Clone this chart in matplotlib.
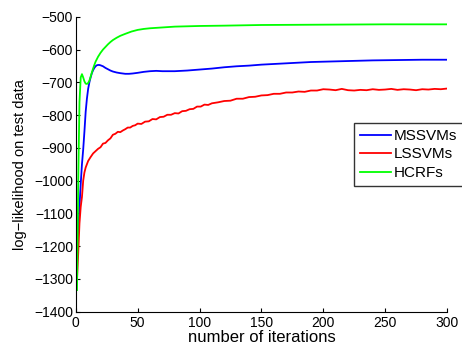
import matplotlib
matplotlib.use("Agg")
import matplotlib.pyplot as plt

plt.rcParams["font.family"] = ["Liberation Sans", "DejaVu Sans"]

# MSSVMs (blue)
ms_x = [1, 2, 3, 4, 5, 6, 7, 8, 9, 10, 11, 12, 13, 14, 15, 16, 17, 18, 19, 20,
        22, 24, 26, 28, 30, 33, 36, 40, 43, 46, 50, 55, 60, 65, 70, 75, 80, 90,
        100, 110, 120, 130, 140, 150, 160, 170, 180, 190, 200, 220, 240, 260, 280, 300]
ms_y = [-1250, -1160, -1080, -1010, -950, -905, -850, -790, -750, -720, -700, -685,
        -672, -663, -656, -651, -648, -647, -647, -648, -651, -656, -660, -664, -667,
        -670, -672, -674, -674, -673, -671, -668, -666, -665, -666, -666, -666, -664,
        -661, -658, -654, -651, -649, -646, -644, -642, -640, -638, -637, -635, -633,
        -632, -631, -631]

# LSSVMs (red)
ls_x = [1, 2, 3, 4, 5, 6, 7, 8, 9, 10, 12, 14, 16, 18, 20, 22, 24, 26, 28, 30, 32,
        34, 36, 38, 40, 42, 44, 46, 48, 50, 53, 56, 59, 62, 65, 68, 71, 74, 77, 80,
        83, 86, 89, 92, 95, 98, 101, 104, 107, 110, 115, 120, 125, 130, 135, 140,
        145, 150, 155, 160, 165, 170, 175, 180, 185, 190, 195, 200, 205, 210, 215,
        220, 225, 230, 235, 240, 245, 250, 255, 260, 265, 270, 275, 280, 285, 290,
        295, 300]
ls_y = [-1303, -1220, -1130, -1080, -1050, -1000, -975, -960, -950, -940, -928, -917,
        -910, -903, -898, -887, -885, -877, -871, -860, -857, -851, -852, -847, -843,
        -838, -838, -833, -831, -826, -827, -820, -819, -812, -813, -806, -805, -799,
        -799, -794, -795, -788, -787, -782, -781, -774, -774, -768, -769, -764, -761,
        -757, -756, -750, -750, -745, -744, -740, -739, -735, -735, -731, -731, -728,
        -729, -725, -725, -721, -722, -724, -720, -724, -725, -723, -724, -721, -723,
        -722, -720, -723, -721, -722, -724, -721, -722, -720, -721, -719]

# HCRFs (green)
hc_x = [1, 2, 3, 4, 5, 6, 7, 8, 9, 10, 11, 12, 13, 14, 15, 16, 18, 20, 22, 24, 26,
        28, 30, 33, 36, 40, 45, 50, 55, 60, 68, 80, 90, 100, 120, 150, 200, 250, 300]
hc_y = [-1334, -1000, -760, -685, -675, -685, -697, -704, -705, -702, -695, -683,
        -670, -658, -647, -637, -622, -610, -600, -592, -584, -577, -571, -564, -558,
        -552, -545, -540, -537, -535, -533, -530, -529, -528, -527, -525, -524, -523,
        -523]

fig = plt.figure(figsize=(4.62, 3.5), dpi=100)
ax = fig.add_axes([0.164, 0.1094, 0.8035, 0.8426])

ax.plot(ms_x, ms_y, color="#0000ff", lw=1.3, label="MSSVMs")
ax.plot(ls_x, ls_y, color="#ff0000", lw=1.3, label="LSSVMs")
ax.plot(hc_x, hc_y, color="#00ff00", lw=1.3, label="HCRFs")

ax.set_xlim(0, 300)
ax.set_ylim(-1400, -500)
ax.set_xticks(range(0, 301, 50))
ax.set_yticks(range(-1400, -499, 100))
ax.spines["top"].set_visible(False)
ax.spines["right"].set_visible(False)
ax.tick_params(direction="in", length=3, labelsize=10)
ax.tick_params(axis="x", pad=3)
ax.tick_params(axis="y", pad=2)
ax.set_xlabel("number of iterations", fontsize=12, labelpad=0)
ax.set_ylabel("log\u2212likelihood on test data", fontsize=10.5, labelpad=5)

leg = ax.legend(loc="upper left", bbox_to_anchor=(0.7495, 0.6407), fontsize=11,
                frameon=True, fancybox=False, edgecolor="black", handlelength=2.0,
                handletextpad=0.2, borderpad=0.4, labelspacing=0.3, borderaxespad=0)
leg.get_frame().set_linewidth(1.0)

fig.savefig("out.png", dpi=100)
